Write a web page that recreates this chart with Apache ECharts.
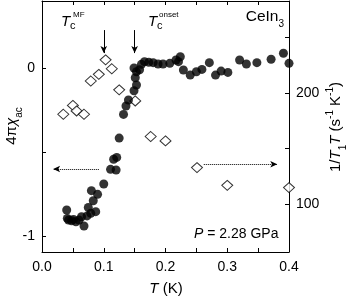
<!DOCTYPE html>
<html><head><meta charset="utf-8">
<script src="https://cdn.jsdelivr.net/npm/echarts@6/dist/echarts.min.js"></script>
<style>html,body{margin:0;padding:0;background:#fff}#c{width:354px;height:299px}</style>
</head><body><div id="c"></div>
<script>
// chi_ac (filled circles, left axis)
var chiT = [0.040,0.041,0.043,0.048,0.051,0.055,0.060,0.064,0.068,0.073,0.075,0.079,0.080,0.083,0.087,0.090,0.100,0.111,0.116,0.120,0.121,0.125,0.132,0.136,0.140,0.149,0.151,0.153,0.153,0.149,0.158,0.161,0.166,0.173,0.180,0.188,0.196,0.207,0.217,0.221,0.224,0.229,0.240,0.250,0.259,0.271,0.281,0.290,0.301,0.320,0.331,0.348,0.371,0.391,0.400];
var chiV = [-0.845,-0.895,-0.905,-0.909,-0.901,-0.915,-0.905,-0.885,-0.94,-0.88,-0.83,-0.865,-0.73,-0.79,-0.855,-0.752,-0.69,-0.603,-0.543,-0.607,-0.532,-0.417,-0.276,-0.226,-0.19,-0.135,-0.058,-0.101,-0.022,0.0,-0.01,0.022,0.038,0.034,0.032,0.024,0.024,0.028,0.048,0.038,0.067,-0.012,-0.042,-0.022,-0.008,0.032,-0.042,-0.018,-0.026,0.048,0.024,0.032,0.052,0.088,0.028];
// 1/T1T (open diamonds, right axis)
var invT = [0.0345,0.050,0.056,0.068,0.079,0.092,0.103,0.113,0.125,0.151,0.176,0.200,0.251,0.300,0.400];
var invV = [181,189,184,181,211,217,230,222,203,193,161,157,133,117,115];
// ticks
var xTicks = [0.0,0.1,0.2,0.3,0.4];
var leftLabels = [-1,0];
var leftTicks = [-1,-0.5,0];
var rightLabels = [100,200];
var rightTicks = [100,150,200,250];

var FONT = 'Liberation Sans, Arial, sans-serif';
var chart = echarts.init(document.getElementById('c'), null, {renderer:'canvas'});
function zip(a,b){return a.map(function(v,i){return [v,b[i]];});}
var lineCol = '#000';
var axisCommon = {
  axisLine:{show:true,onZero:false,lineStyle:{color:lineCol,width:1}},
  splitLine:{show:false}
};
var option = {
  animation:false,
  backgroundColor:'#fff',
  grid:{left:42,right:65,top:1,bottom:47,containLabel:false},
  xAxis:[
    Object.assign({type:'value',position:'bottom',min:0,max:0.4,interval:0.1,
      axisTick:{inside:true,length:4,lineStyle:{color:lineCol}},
      minorTick:{show:true,splitNumber:2,length:4,lineStyle:{color:lineCol}},
      axisLabel:{fontFamily:FONT,fontSize:14,color:'#000',margin:8,
        customValues:xTicks,formatter:function(v){return v.toFixed(1);}}},axisCommon),
    Object.assign({type:'value',position:'top',min:0,max:0.4,interval:0.1,
      axisTick:{inside:true,length:4,lineStyle:{color:lineCol}},
      minorTick:{show:true,splitNumber:2,length:4,lineStyle:{color:lineCol}},
      axisLabel:{show:false}},axisCommon)
  ],
  yAxis:[
    Object.assign({type:'value',position:'left',min:-1.095,max:0.399,
      axisTick:{inside:true,length:4,customValues:leftTicks,lineStyle:{color:lineCol}},
      axisLabel:{fontFamily:FONT,fontSize:14,color:'#000',margin:7,customValues:leftLabels,
        formatter:function(v){return String(v);}}},axisCommon),
    Object.assign({type:'value',position:'right',min:57,max:283,
      axisTick:{inside:true,length:4,customValues:rightTicks,lineStyle:{color:lineCol}},
      axisLabel:{fontFamily:FONT,fontSize:14,color:'#000',margin:7,customValues:rightLabels}},axisCommon)
  ],
  series:[
    {type:'scatter',xAxisIndex:0,yAxisIndex:1,data:zip(invT,invV),symbol:'diamond',symbolSize:[11,10],
      itemStyle:{color:'#fff',borderColor:'#000',borderWidth:1},z:3,
      markLine:{silent:true,symbol:['none','arrow'],symbolSize:[5,7],label:{show:false},
        lineStyle:{color:'#000',width:1,type:'dotted'},
        data:[[{coord:[0.262,136]},{coord:[0.381,136]}]]}},
    {type:'scatter',xAxisIndex:0,yAxisIndex:0,data:zip(chiT,chiV),symbol:'circle',symbolSize:9,
      itemStyle:{color:'#000'},z:4,
      markLine:{silent:true,symbol:['none','arrow'],symbolSize:[5,7],label:{show:false},
        lineStyle:{color:'#000',width:1,type:'solid'},
        data:[
          [{coord:[0.1,0.226]},{coord:[0.1,0.089]}],
          [{coord:[0.15,0.226]},{coord:[0.15,0.089]}],
          [{coord:[0.092,-0.601],lineStyle:{type:'dotted'}},{coord:[0.018,-0.601],lineStyle:{type:'dotted'}}]
        ]}}
  ],
  graphic:[
    {type:'text',x:61,y:14,style:{text:'T',font:'italic 15px '+FONT,fill:'#000'}},
    {type:'text',x:70,y:20,style:{text:'c',font:'11px '+FONT,fill:'#000'}},
    {type:'text',x:73,y:11,style:{text:'MF',font:'8px '+FONT,fill:'#000'}},
    {type:'text',x:148,y:14,style:{text:'T',font:'italic 15px '+FONT,fill:'#000'}},
    {type:'text',x:157,y:20,style:{text:'c',font:'11px '+FONT,fill:'#000'}},
    {type:'text',x:159,y:11,style:{text:'onset',font:'8px '+FONT,fill:'#000'}},
    {type:'text',x:284,y:17,style:{text:'{a|CeIn}{b|3}',align:'right',verticalAlign:'middle',fill:'#000',
      rich:{a:{fontFamily:FONT,fontSize:15.5,lineHeight:18,verticalAlign:'middle'},
            b:{fontFamily:FONT,fontSize:10,lineHeight:10,verticalAlign:'bottom',padding:[0,0,-3,0]}}}},
    {type:'text',x:194,y:227,style:{text:'{i|P} = 2.28 GPa',font:'14px '+FONT,fill:'#000',
      rich:{i:{fontStyle:'italic',fontFamily:FONT,fontSize:14}}}},
    {type:'text',x:166,y:289,style:{text:'{i|T} (K)',font:'15px '+FONT,fill:'#000',align:'center',verticalAlign:'middle',
      rich:{i:{fontStyle:'italic',fontFamily:FONT,fontSize:15}}}},
    {type:'text',x:12,y:126,rotation:Math.PI/2,style:{text:'{n|4π}{g|χ}{s|ac}',align:'center',verticalAlign:'middle',fill:'#000',
      rich:{n:{fontFamily:FONT,fontSize:15,lineHeight:18,verticalAlign:'middle'},
            g:{fontFamily:FONT,fontStyle:'italic',fontSize:15,lineHeight:18,verticalAlign:'middle'},
            s:{fontFamily:FONT,fontSize:10,lineHeight:10,verticalAlign:'bottom',padding:[0,0,-3,0]}}}},
    {type:'text',x:336,y:127,rotation:Math.PI/2,style:{text:'{n|1/}{i|T}{s|1}{i|T}{n| (s}{p|-1}{n| K}{p|-1}{n|)}',align:'center',verticalAlign:'middle',fill:'#000',
      rich:{n:{fontFamily:FONT,fontSize:15,lineHeight:18,verticalAlign:'middle'},
            i:{fontFamily:FONT,fontStyle:'italic',fontSize:15,lineHeight:18,verticalAlign:'middle'},
            s:{fontFamily:FONT,fontSize:10,lineHeight:10,verticalAlign:'bottom',padding:[0,0,-3,0]},
            p:{fontFamily:FONT,fontSize:10,lineHeight:10,verticalAlign:'top',padding:[-2,0,0,0]}}}}
  ]
};
chart.setOption(option);
</script></body></html>
